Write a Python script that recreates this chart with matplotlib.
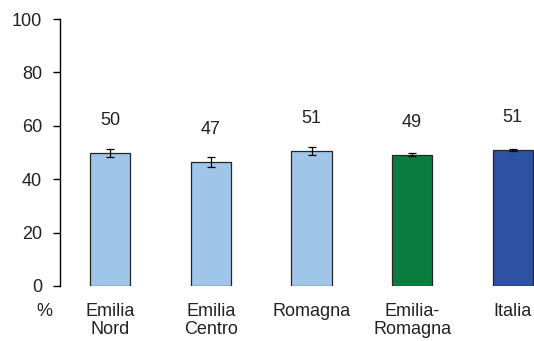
import matplotlib
matplotlib.use("Agg")
import matplotlib.pyplot as plt

plt.rcParams['font.family'] = ['Liberation Sans', 'DejaVu Sans']

categories = ["Emilia\nNord", "Emilia\nCentro", "Romagna", "Emilia-\nRomagna", "Italia"]
values = [49.8, 46.5, 50.7, 49.2, 51.0]
labels = ["50", "47", "51", "49", "51"]
errors = [1.4, 1.9, 1.5, 0.6, 0.3]
colors = ["#9fc5e8", "#9fc5e8", "#9fc5e8", "#0a7d3e", "#2e51a2"]

fs = 13

fig = plt.figure(figsize=(5.34, 3.41), dpi=100)
ax = fig.add_axes([60 / 534, 55 / 341, 503 / 534, 267 / 341])

x = range(len(categories))
ax.bar(x, values, width=0.4, color=colors, edgecolor="#262626", linewidth=0.9,
       yerr=errors, error_kw=dict(ecolor="black", elinewidth=0.9, capsize=3, capthick=0.9))

for i, (v, lab) in enumerate(zip(values, labels)):
    ax.text(i, v + 12, lab, ha="center", va="center", fontsize=fs, color="#222222")

ax.set_xlim(-0.5, 4.5)
ax.set_ylim(0, 100)
ax.set_yticks([0, 20, 40, 60, 80, 100])
ax.set_xticks(list(x))
ax.set_xticklabels(categories, fontsize=fs, color="#222222", linespacing=1.1)
ax.tick_params(axis="x", length=0, pad=12)
ax.tick_params(axis="y", direction="out", length=5, width=1, labelsize=fs,
               labelcolor="#222222", pad=8)

for s in ["top", "right", "bottom"]:
    ax.spines[s].set_visible(False)
ax.spines["left"].set_linewidth(1)

fig.text(44 / 534, 1 - 311 / 341, "%", ha="center", va="center", fontsize=fs, color="#222222")

fig.savefig("out.png", dpi=100)
